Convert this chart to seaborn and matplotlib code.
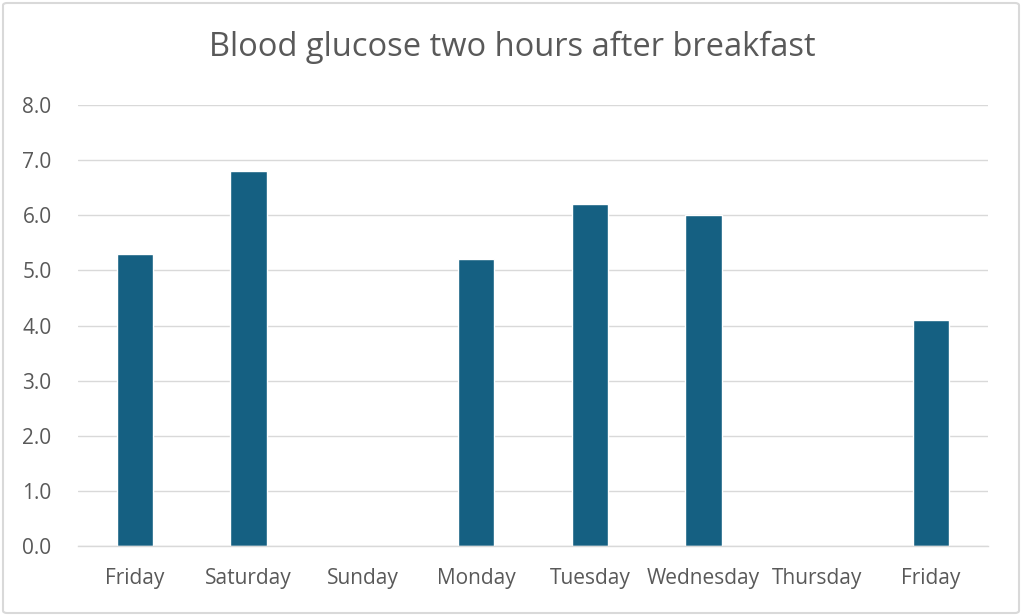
import numpy as np
import pandas as pd
import matplotlib
matplotlib.use("Agg")
import matplotlib.pyplot as plt
from matplotlib.patches import FancyBboxPatch
import seaborn as sns

# data
days = ["Friday", "Saturday", "Sunday", "Monday", "Tuesday", "Wednesday", "Thursday", "Friday"]
glucose = [5.3, 6.8, np.nan, 5.2, 6.2, 6.0, np.nan, 4.1]

df = pd.DataFrame({"pos": range(len(days)), "glucose": glucose})

sns.set_style("white")
plt.rcParams["font.family"] = ["Open Sans", "DejaVu Sans"]

text_col = "#595959"
grid_col = "#D9D9D9"

fig = plt.figure(figsize=(10.24, 6.15), dpi=100)
ax = fig.add_axes([78 / 1024, 1 - 546 / 615, 910 / 1024, 441 / 615])

sns.barplot(data=df, x="pos", y="glucose", color="#156082", width=0.32,
            saturation=1, ax=ax)

ax.set_ylim(0, 8)
ax.set_yticks(np.arange(0, 8.01, 1))
ax.set_yticklabels([f"{v:.1f}" for v in np.arange(0, 8.01, 1)])
ax.set_xlim(-0.5, len(days) - 0.5)
ax.set_xticks(range(len(days)))
ax.set_xticklabels(days)
ax.set_xticks(np.arange(-0.5, len(days), 1), minor=True)
ax.tick_params(axis="x", which="major", length=0, pad=16, labelsize=15, labelcolor=text_col)
ax.tick_params(axis="x", which="minor", length=7, width=1, color=grid_col)
ax.tick_params(axis="y", length=0, pad=19, labelsize=15, labelcolor=text_col)

ax.yaxis.grid(True, color=grid_col, linewidth=1)
ax.set_axisbelow(True)
for s in ["left", "right", "top"]:
    ax.spines[s].set_visible(False)
ax.spines["bottom"].set_color(grid_col)
ax.spines["bottom"].set_linewidth(1)
ax.set_xlabel("")
ax.set_ylabel("")

fig.text(0.5, 1 - 47 / 615, "Blood glucose two hours after breakfast",
         ha="center", va="center", fontsize=23.5, color=text_col)

# outer chart border
fig.patches.append(FancyBboxPatch((3 / 1024, 2 / 615), 1016 / 1024, 610 / 615,
                                  boxstyle="round,pad=0,rounding_size=0.004",
                                  transform=fig.transFigure, fill=False,
                                  edgecolor=grid_col, linewidth=1.5))

fig.savefig("out.png", dpi=100)
